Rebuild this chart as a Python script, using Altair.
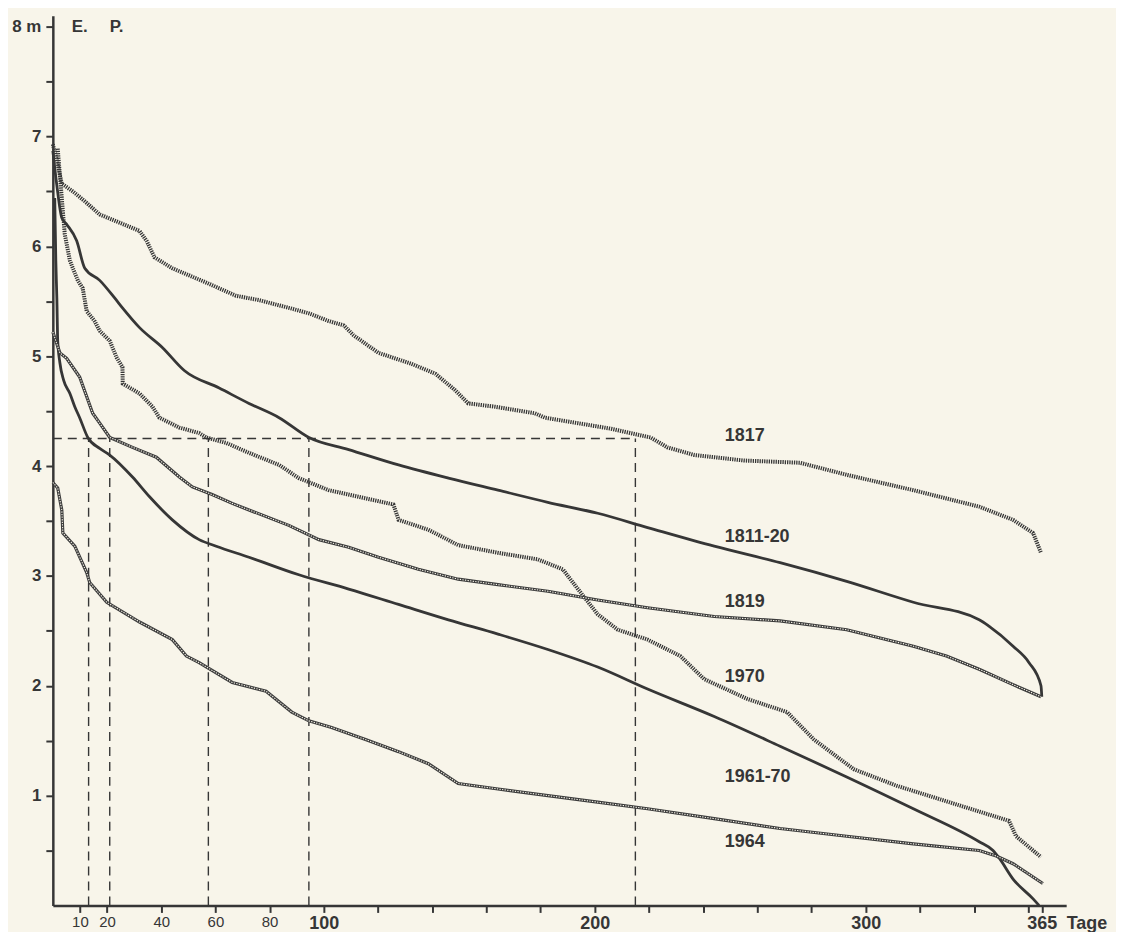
import altair as alt
import pandas as pd

# ---- data (days of year, water level in m) ----
S1817_DAY = [0, 1.5, 3.3, 7.4, 11.8, 17.3, 32, 34.6, 37.5, 44.1, 56.6, 67.6, 76.1, 87.1, 94.5, 101.8, 107.4, 111, 120.2, 132.4, 141.2, 148.5, 153.3, 163.2, 177.9, 181.6, 193.8, 205.9, 213.2, 220.6, 226.8, 236.8, 255.1, 275.7, 293, 317.6, 341.9, 354.4, 361.8, 364.7]
S1817_VAL = [6.93, 6.78, 6.57, 6.50, 6.41, 6.29, 6.14, 6.05, 5.90, 5.80, 5.67, 5.55, 5.51, 5.44, 5.39, 5.32, 5.28, 5.19, 5.03, 4.93, 4.84, 4.69, 4.57, 4.54, 4.48, 4.44, 4.39, 4.34, 4.30, 4.26, 4.17, 4.10, 4.05, 4.03, 3.92, 3.78, 3.63, 3.51, 3.39, 3.21]

S181120_DAY = [0, 1.5, 3.3, 5.1, 8.8, 11.8, 17.3, 22.8, 25.7, 32, 40.4, 48.5, 61.4, 72.4, 83.5, 94.5, 109.2, 127.6, 146, 164.3, 182.7, 201.1, 219.5, 244.1, 268.4, 293, 317.6, 341.9, 345.6, 354.4, 360.3, 364.7, 365]
S181120_VAL = [6.87, 6.55, 6.26, 6.20, 6.05, 5.80, 5.69, 5.53, 5.44, 5.26, 5.08, 4.87, 4.71, 4.57, 4.44, 4.26, 4.15, 4.01, 3.89, 3.78, 3.67, 3.57, 3.44, 3.27, 3.12, 2.95, 2.76, 2.60, 2.54, 2.36, 2.21, 2.00, 1.90]

S1970_DAY = [1.8, 3.7, 4.4, 6.3, 7.4, 9.2, 11, 12.5, 15.4, 17.3, 21, 23.5, 25.7, 25.8, 32, 36.8, 39.3, 46.7, 54, 56.6, 64, 72.4, 83.5, 90.8, 101.8, 112.9, 125.7, 127.6, 138.6, 149.6, 164.3, 179, 188.2, 193.8, 201.1, 208.5, 219.5, 231.6, 240.4, 256.3, 271, 280.9, 295.6, 311.4, 336, 352.9, 355.5, 364.7]
S1970_VAL = [6.89, 6.32, 6.11, 5.87, 5.80, 5.69, 5.62, 5.41, 5.32, 5.23, 5.14, 4.99, 4.90, 4.75, 4.66, 4.54, 4.44, 4.35, 4.30, 4.26, 4.21, 4.12, 4.01, 3.89, 3.78, 3.72, 3.65, 3.51, 3.42, 3.28, 3.21, 3.15, 3.06, 2.88, 2.65, 2.51, 2.42, 2.27, 2.06, 1.88, 1.76, 1.51, 1.24, 1.09, 0.90, 0.77, 0.63, 0.44]

S1819_DAY = [0, 2.6, 5.1, 9.9, 14.7, 17.3, 21, 29.4, 38.2, 46.7, 51.5, 58.8, 66.2, 72.4, 87.1, 98.2, 109.2, 120.2, 134.9, 149.6, 164.3, 182.7, 201.1, 219.5, 244.1, 268.4, 293, 317.6, 329.8, 341.9, 354.4, 364.7]
S1819_VAL = [5.22, 5.03, 4.98, 4.81, 4.48, 4.39, 4.26, 4.17, 4.08, 3.90, 3.81, 3.74, 3.66, 3.60, 3.46, 3.33, 3.26, 3.17, 3.06, 2.97, 2.92, 2.86, 2.78, 2.71, 2.63, 2.59, 2.51, 2.36, 2.27, 2.15, 2.01, 1.90]

S196170_DAY = [0.7, 1.1, 1.5, 1.8, 2.6, 4, 6.3, 8.1, 9.9, 12.9, 17.3, 21, 29.4, 35.7, 44.1, 54, 60.3, 72.4, 90.8, 109.2, 127.6, 146, 164.3, 182.7, 201.1, 219.5, 244.1, 268.4, 293, 317.6, 341.9, 347, 349.3, 354.4, 361.8, 364]
S196170_VAL = [6.44, 5.87, 5.51, 5.14, 4.94, 4.78, 4.66, 4.54, 4.44, 4.26, 4.16, 4.10, 3.90, 3.72, 3.51, 3.33, 3.27, 3.17, 3.01, 2.88, 2.74, 2.60, 2.47, 2.33, 2.17, 1.97, 1.72, 1.45, 1.17, 0.88, 0.58, 0.50, 0.43, 0.24, 0.06, 0.0]

S1964_DAY = [0, 1.8, 3.3, 3.7, 8.1, 12.5, 13.6, 19.9, 32, 44.1, 49.3, 54, 66.2, 78.7, 88.2, 94.5, 102.9, 115.4, 127.6, 138.6, 149.6, 164.3, 182.7, 201.1, 219.5, 244.1, 268.4, 293, 317.6, 341.9, 348.2, 354.4, 365.4]
S1964_VAL = [3.85, 3.80, 3.60, 3.39, 3.27, 3.03, 2.94, 2.76, 2.58, 2.42, 2.27, 2.21, 2.03, 1.95, 1.76, 1.68, 1.62, 1.51, 1.40, 1.29, 1.11, 1.06, 1.00, 0.94, 0.88, 0.79, 0.70, 0.63, 0.56, 0.50, 0.45, 0.38, 0.20]

SERIES = ["1817", "1811-20", "1819", "1970", "1961-70", "1964"]
LABEL_DAY = [248, 248, 248, 248, 248, 248]
LABEL_VAL = [4.27, 3.35, 2.76, 2.08, 1.17, 0.58]

HEAD_TEXT = ["E.", "P."]
HEAD_DAY = [7, 21]
HEAD_VAL = [8.0, 8.0]

REF_LEVEL = 4.25
REF_DAYS = [13.2, 21, 57.4, 94.5, 215]

X_TICKS = [10, 20, 40, 60, 80, 100, 120, 140, 160, 180, 200, 220, 240, 260, 280, 300, 320, 340, 360, 365]
X_LABELED = [10, 20, 40, 60, 80, 100, 200, 300, 365]
Y_TICKS = [0.5, 1, 1.5, 2, 2.5, 3, 3.5, 4, 4.5, 5, 5.5, 6, 6.5, 7, 7.5, 8]

# ---- build tables ----
rows = []
for name, days, vals in [("1817", S1817_DAY, S1817_VAL), ("1811-20", S181120_DAY, S181120_VAL),
                         ("1970", S1970_DAY, S1970_VAL), ("1819", S1819_DAY, S1819_VAL),
                         ("1961-70", S196170_DAY, S196170_VAL), ("1964", S1964_DAY, S1964_VAL)]:
    for i, (d, v) in enumerate(zip(days, vals)):
        rows.append({"series": name, "day": d, "value": v, "order": i})
curves = pd.DataFrame(rows)
labels = pd.DataFrame({"label": SERIES, "day": LABEL_DAY, "value": LABEL_VAL})
heads = pd.DataFrame({"label": HEAD_TEXT, "day": HEAD_DAY, "value": HEAD_VAL})
hline = pd.DataFrame({"day": [0], "day2": [max(REF_DAYS)], "value": [REF_LEVEL]})
vlines = pd.DataFrame({"day": REF_DAYS, "value": [0] * len(REF_DAYS), "value2": [REF_LEVEL] * len(REF_DAYS)})

INK = "#363636"
BG = "#f8f5ea"
FONT = "Liberation Sans"

labeled_js = "[" + ",".join(str(v) for v in X_LABELED) + "]"
x_axis = alt.Axis(
    values=X_TICKS,
    labelExpr=f"indexof({labeled_js}, datum.value) >= 0 ? datum.label : ''",
    labelFontWeight={"condition": {"test": "datum.value >= 100", "value": "bold"}, "value": "normal"},
    labelFontSize={"condition": {"test": "datum.value >= 100", "value": 18}, "value": 15},
    labelOverlap=False, labelFlush=False, labelPadding=2,
    tickSize=7, tickWidth=2, tickColor=INK,
    domainColor=INK, domainWidth=2.5,
    labelColor=INK, labelFont=FONT, grid=False,
    title="Tage", titleFont=FONT, titleFontSize=18, titleFontWeight="bold", titleColor=INK,
    titleAlign="left", titleAnchor="start", titleX=1017, titleY=18, titleBaseline="middle",
)
y_axis = alt.Axis(
    values=Y_TICKS,
    labelExpr="datum.value == 8 ? '8 m' : (datum.value % 1 == 0 ? format(datum.value, 'd') : '')",
    labelFontWeight="bold", labelFontSize=17, labelFont=FONT, labelColor=INK,
    labelOverlap=False, labelFlush=False, labelPadding=5,
    tickSize=7, tickWidth=2, tickColor=INK,
    domainColor=INK, domainWidth=2.5, grid=False,
)

X = alt.X("day:Q", scale=alt.Scale(domain=[0, 374], nice=False, zero=True), axis=x_axis)
Y = alt.Y("value:Q", scale=alt.Scale(domain=[0, 8.1], nice=False), axis=y_axis, title=None)

base = alt.Chart(curves).encode(x=X, y=Y, detail="series:N", order="order:Q")

solid = base.transform_filter(alt.FieldOneOfPredicate(field="series", oneOf=["1811-20", "1961-70"])).mark_line(
    color=INK, strokeWidth=2.8, interpolate="monotone")
dotted = base.transform_filter(alt.FieldOneOfPredicate(field="series", oneOf=["1817", "1970"])).mark_line(
    color=INK, strokeWidth=4, strokeDash=[1.3, 1])
beaded_a = base.transform_filter(alt.FieldOneOfPredicate(field="series", oneOf=["1819", "1964"])).mark_line(
    color="#3c3c3c", strokeWidth=3.2)
beaded_b = base.transform_filter(alt.FieldOneOfPredicate(field="series", oneOf=["1819", "1964"])).mark_line(
    color=BG, strokeWidth=1.1, strokeDash=[1.3, 1.3])

href = alt.Chart(hline).mark_rule(color=INK, strokeWidth=1.4, strokeDash=[9, 6]).encode(
    x=X, x2="day2:Q", y=Y)
vref = alt.Chart(vlines).mark_rule(color=INK, strokeWidth=1.4, strokeDash=[9, 6]).encode(
    x=X, y=Y, y2="value2:Q")

text = alt.Chart(labels).mark_text(align="left", baseline="middle", font=FONT, fontSize=18,
                                   fontWeight="bold", color=INK).encode(x=X, y=Y, text="label:N")
head = alt.Chart(heads).mark_text(align="left", baseline="middle", font=FONT, fontSize=17,
                                  fontWeight="bold", color=INK).encode(x=X, y=Y, text="label:N")

chart = alt.layer(href, vref, solid, dotted, beaded_a, beaded_b, text, head).properties(
    width=1017, height=893,
    autosize=alt.AutoSizeParams(type="none"),
    padding={"left": 45, "top": 6, "right": 50, "bottom": 25},
    background=BG,
).configure_view(stroke=None)

chart.save("out.html", embed_options={"renderer": "svg", "actions": False})
